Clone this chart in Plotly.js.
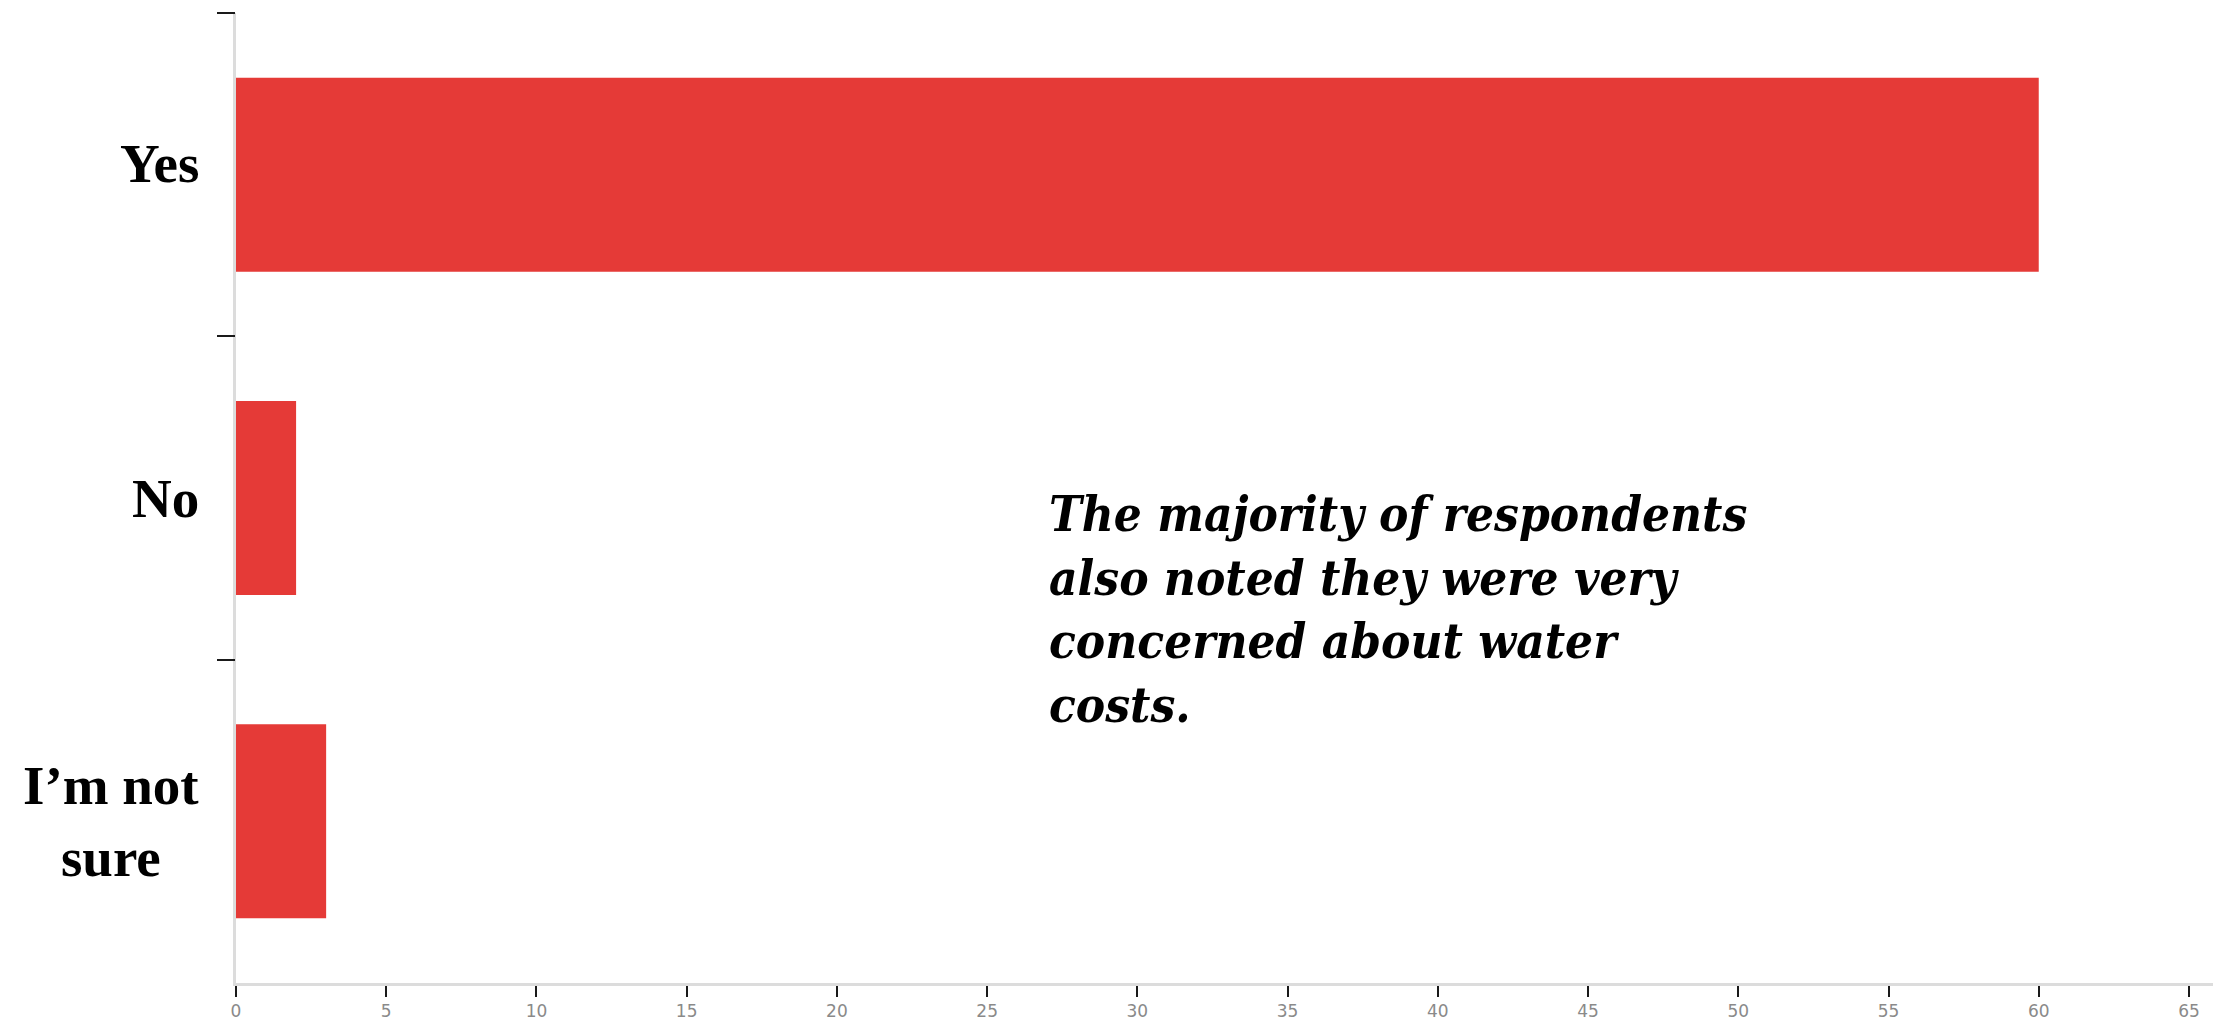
<!DOCTYPE html>
<html>
<head>
<meta charset="utf-8">
<script src="https://cdn.plot.ly/plotly-3.0.1.min.js"></script>
<style>
  html, body { margin: 0; padding: 0; background: #ffffff; }
  #chart { width: 2213px; height: 1024px; }
</style>
</head>
<body>
<div id="chart"></div>
<script>
// ---- data ----
const categories = ["Yes", "No", "I’m not<br>sure"];
const counts = [60, 2, 3];
const xTickValues = [0, 5, 10, 15, 20, 25, 30, 35, 40, 45, 50, 55, 60, 65];
const categoryBoundaryTicks = [0.5, 1.5, 2.5];
const noteText = "The majority of respondents<br>also noted they were very<br>concerned about water<br>costs.";

// ---- style ----
const barColor = "#e53a37";
const labelShift = [11, 0, 0];

const trace = {
  type: "bar",
  orientation: "h",
  x: counts,
  y: categories,
  width: 0.6,
  marker: { color: barColor, line: { width: 0 } },
  hoverinfo: "skip"
};

// invisible helper trace so the boundary-tick axis is drawn
const helper = {
  type: "scatter", mode: "markers",
  x: [0], y: [0.5], yaxis: "y2",
  marker: { opacity: 0 }, hoverinfo: "skip", showlegend: false
};

const labelAnnotations = categories.map((c, i) => ({
  xref: "paper", yref: "y",
  x: 0, y: c,
  xanchor: "right", yanchor: "middle",
  xshift: -35, yshift: labelShift[i],
  align: "center",
  showarrow: false,
  text: "<b>" + c + "</b>",
  font: { family: "Liberation Serif, Times New Roman, serif", size: 55, color: "#000000" }
}));

const layout = {
  width: 2213, height: 1024,
  margin: { l: 236, r: 0, t: 13, b: 41, pad: 0 },
  paper_bgcolor: "#ffffff",
  plot_bgcolor: "#ffffff",
  showlegend: false,
  bargap: 0.4,
  xaxis: {
    range: [0, 65.8],
    tickmode: "array",
    tickvals: xTickValues,
    ticktext: xTickValues.map(String),
    ticks: "outside", ticklen: 11, tickwidth: 2, tickcolor: "#1a1a1a",
    showline: true, linecolor: "#dcdcdc", linewidth: 3,
    showgrid: false, zeroline: false,
    tickfont: { family: "DejaVu Sans, Arial, sans-serif", size: 17, color: "#8a8a8a" },
    fixedrange: true
  },
  yaxis: {
    type: "category",
    categoryorder: "array",
    categoryarray: categories.slice().reverse(),
    range: [-0.5, 2.5],
    ticks: "",
    showticklabels: false,
    showline: true, linecolor: "#dcdcdc", linewidth: 3,
    showgrid: false, zeroline: false,
    fixedrange: true
  },
  yaxis2: {
    overlaying: "y",
    side: "left",
    range: [-0.5, 2.5],
    tickmode: "array",
    tickvals: categoryBoundaryTicks,
    ticks: "outside", ticklen: 18, tickwidth: 2, tickcolor: "#1a1a1a",
    showticklabels: false,
    showline: false, showgrid: false, zeroline: false,
    fixedrange: true
  },
  annotations: labelAnnotations.concat([{
    xref: "paper", yref: "paper",
    x: 0.41, y: 0.385,
    xanchor: "left", yanchor: "middle",
    align: "left",
    showarrow: false,
    text: "<b><i>" + noteText + "</i></b>",
    font: { family: "DejaVu Serif Condensed, DejaVu Serif, serif", size: 49, color: "#000000" }
  }])
};

Plotly.newPlot("chart", [trace, helper], layout, { staticPlot: true, displayModeBar: false });
</script>
</body>
</html>
